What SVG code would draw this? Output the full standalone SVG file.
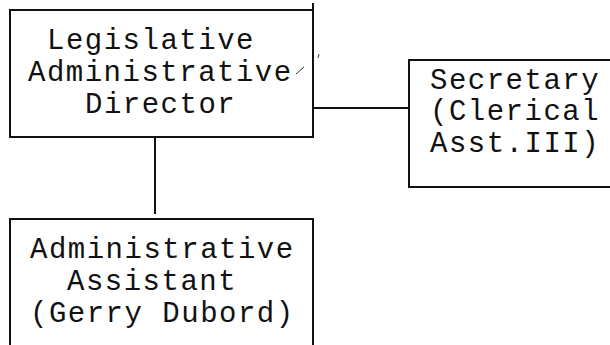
<svg xmlns="http://www.w3.org/2000/svg" width="610" height="345" viewBox="0 0 610 345">
<style>
.ln{stroke:#111;stroke-width:2;fill:none;stroke-linecap:square}
.mk{stroke:#333;stroke-width:1;fill:none}
text{font-family:"Liberation Mono","DejaVu Sans Mono",monospace;font-size:29px;letter-spacing:1.5px;fill:#111}
</style>
<rect width="610" height="345" fill="#fff"/>
<g id="connectors">
<line class="ln" x1="313" y1="108" x2="409" y2="108"/>
<line class="ln" x1="155" y1="137" x2="155" y2="213"/>
</g>
<g id="director">
<path class="ln" d="M10,10 H313 M10,10 V137 H313 M313,4 V137"/>
<path class="mk" d="M296,74 L304,67 M318,58 L319,54"/>
<text x="47" y="49">Legislative</text>
<text x="28" y="81">Administrative</text>
<text x="85" y="113">Director</text>
</g>
<g id="secretary">
<path class="ln" d="M409,60 H610 M409,60 V186 M409,187 H610"/>
<text x="430" y="89">Secretary</text>
<text x="430" y="120">(Clerical</text>
<text x="430" y="152">Asst.III)</text>
</g>
<g id="assistant">
<path class="ln" d="M10,219 H313 M10,219 V345 M313,219 V345"/>
<text x="30" y="258">Administrative</text>
<text x="67" y="290">Assistant</text>
<text x="30" y="322">(Gerry Dubord)</text>
</g>
</svg>
